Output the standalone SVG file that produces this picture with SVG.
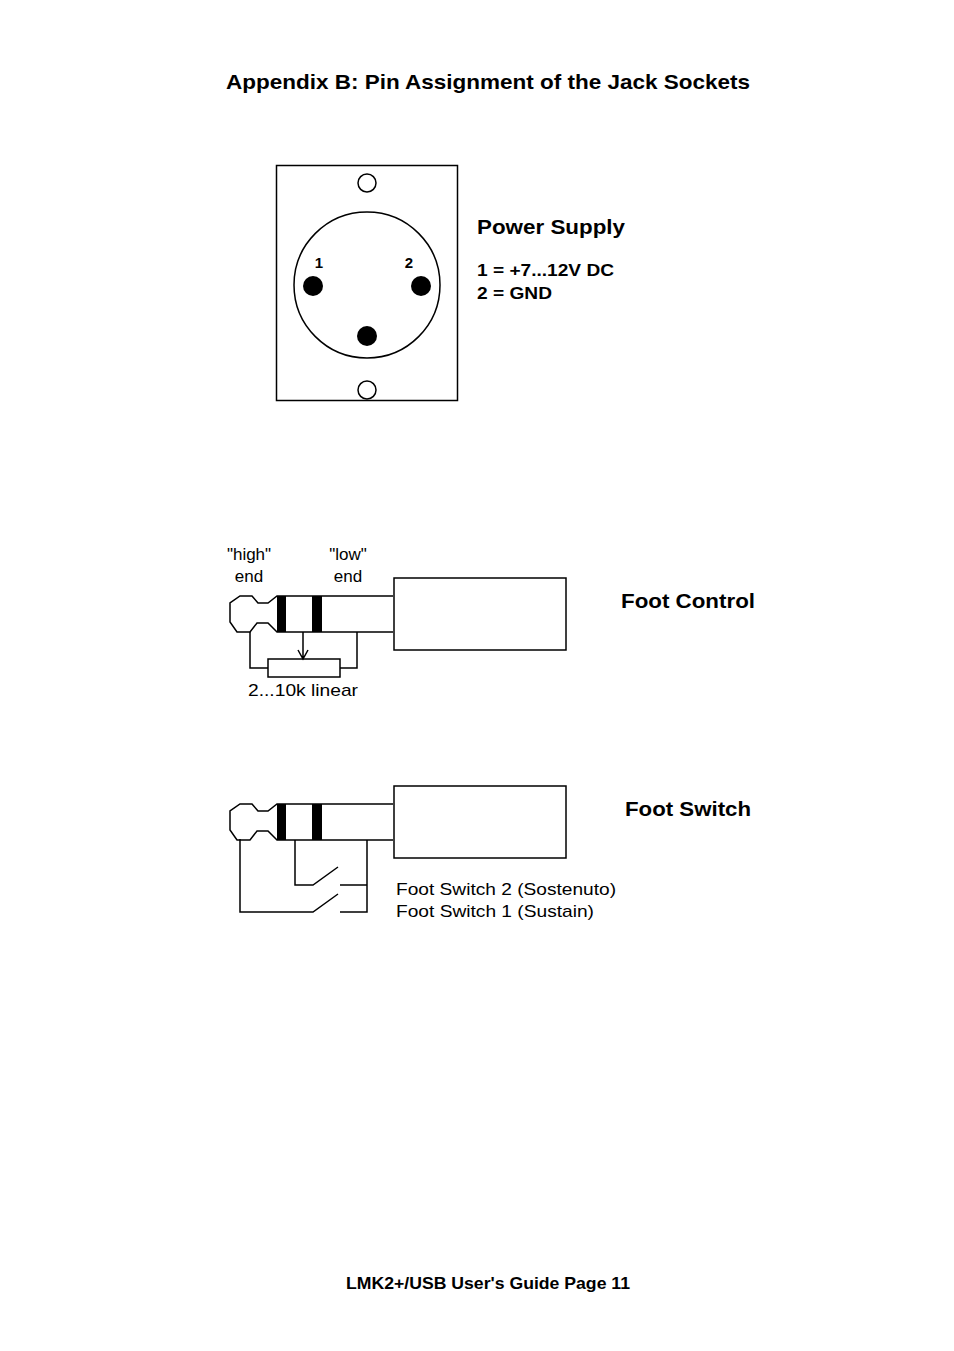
<svg xmlns="http://www.w3.org/2000/svg" width="954" height="1351" viewBox="0 0 954 1351">
<style>
text{font-family:"Liberation Sans",Arial,sans-serif;fill:#000}
.b{font-weight:bold}
.l{fill:none;stroke:#000;stroke-width:1.5}
</style>
<defs>
<g id="plug">
<path class="l" d="M393,596 H277 L268,603 H258 L252,596 H240 L230,603 V622 L237,632 H250 L257,623 H268 L277,632 H393"/>
<rect x="277" y="596" width="9" height="36"/>
<rect x="312" y="596" width="10" height="36"/>
</g>
</defs>
<rect width="954" height="1351" fill="#fff"/>
<text class="b" x="226" y="89" font-size="21" textLength="524" lengthAdjust="spacingAndGlyphs">Appendix B: Pin Assignment of the Jack Sockets</text>
<g id="power">
<rect class="l" x="276.5" y="165.5" width="181" height="235"/>
<circle class="l" cx="367" cy="285" r="73"/>
<circle class="l" cx="367" cy="183" r="9"/>
<circle class="l" cx="367" cy="390" r="9"/>
<circle cx="313" cy="286" r="10"/>
<circle cx="421" cy="286" r="10"/>
<circle cx="367" cy="336" r="10"/>
<text class="b" x="319" y="268" font-size="15" text-anchor="middle">1</text>
<text class="b" x="409" y="268" font-size="15" text-anchor="middle">2</text>
</g>
<text class="b" x="477" y="234" font-size="21" textLength="148" lengthAdjust="spacingAndGlyphs">Power Supply</text>
<text class="b" x="477" y="276" font-size="17" textLength="137" lengthAdjust="spacingAndGlyphs">1 = +7...12V DC</text>
<text class="b" x="477" y="299" font-size="17" textLength="75" lengthAdjust="spacingAndGlyphs">2 = GND</text>
<g id="footcontrol">
<use href="#plug"/>
<rect class="l" x="394" y="578" width="172" height="72"/>
<path class="l" d="M250,632 V668 H268 M340,668 H357 V632 M303,632 V658 M298,650 L303,659 L308,650"/>
<rect class="l" x="268" y="659" width="72" height="18"/>
<text x="249" y="560" font-size="17" text-anchor="middle">"high"</text>
<text x="249" y="582" font-size="17" text-anchor="middle">end</text>
<text x="348" y="560" font-size="17" text-anchor="middle">"low"</text>
<text x="348" y="582" font-size="17" text-anchor="middle">end</text>
<text x="248" y="696" font-size="17" textLength="110" lengthAdjust="spacingAndGlyphs">2...10k linear</text>
</g>
<text class="b" x="621" y="608" font-size="21" textLength="134" lengthAdjust="spacingAndGlyphs">Foot Control</text>
<g id="footswitch">
<use href="#plug" transform="translate(0,208)"/>
<rect class="l" x="394" y="786" width="172" height="72"/>
<path class="l" d="M240,839 V912 H313 L338,894 M340,912 H367 V840 M295,840 V885 H313 L338,867 M340,885 H367"/>
<text x="396" y="895" font-size="17" textLength="220" lengthAdjust="spacingAndGlyphs">Foot Switch 2 (Sostenuto)</text>
<text x="396" y="917" font-size="17" textLength="198" lengthAdjust="spacingAndGlyphs">Foot Switch 1 (Sustain)</text>
</g>
<text class="b" x="625" y="816" font-size="21" textLength="126" lengthAdjust="spacingAndGlyphs">Foot Switch</text>
<text class="b" x="346" y="1289" font-size="17" textLength="284" lengthAdjust="spacingAndGlyphs">LMK2+/USB User's Guide Page 11</text>
</svg>
